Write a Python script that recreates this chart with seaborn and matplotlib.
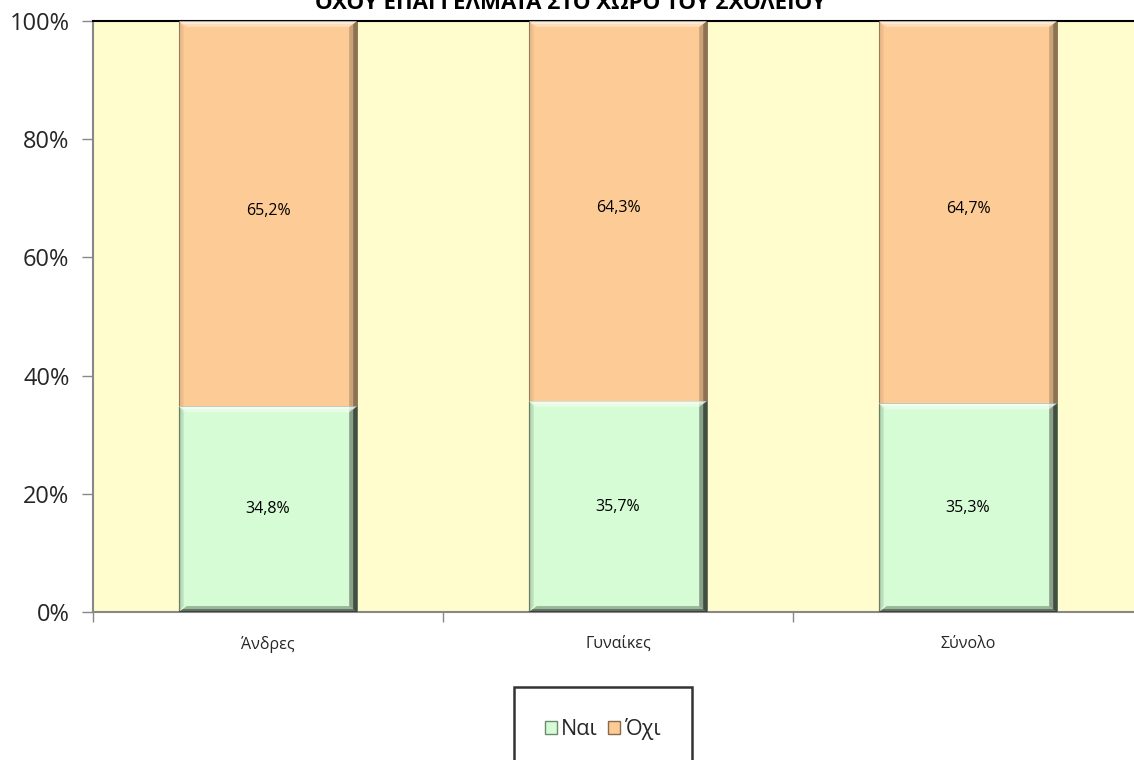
import matplotlib
matplotlib.use("Agg")
import matplotlib.pyplot as plt
import seaborn as sns
import pandas as pd
from matplotlib.patches import Polygon, Patch
from matplotlib.ticker import FixedLocator, PercentFormatter

categories = ["Άνδρες", "Γυναίκες", "Σύνολο"]
nai = [34.8, 35.7, 35.3]
oxi = [65.2, 64.3, 64.7]
series_names = ["Ναι", "Όχι"]
title_text = "ΟΧΟΥ ΕΠΑΓΓΕΛΜΑΤΑ ΣΤΟ ΧΩΡΟ ΤΟΥ ΣΧΟΛΕΙΟΥ"

green = "#D6FCD6"
orange = "#FDCB96"
bg = "#FFFCCD"

sns.set_theme(style="white")
plt.rcParams["font.family"] = ["Open Sans", "DejaVu Sans"]

df = pd.DataFrame({"cat": categories, "nai": nai, "oxi": oxi})
df["total"] = df["nai"] + df["oxi"]

fig = plt.figure(figsize=(11.34, 7.6), dpi=100)
ax = fig.add_axes([93/1134, 1-612/760, 1050/1134, 591/760])
ax.set_facecolor(bg)

sns.barplot(data=df, x="cat", y="total", color=orange, width=0.51, ax=ax,
            saturation=1, edgecolor="#9a7a5a", linewidth=0.6)
sns.barplot(data=df, x="cat", y="nai", color=green, width=0.51, ax=ax,
            saturation=1, edgecolor="#7a9a7a", linewidth=0.6)

# bevel effect (layered for a soft gradient)
for p in list(ax.patches):
    x0, y0 = p.get_x(), p.get_y()
    w, h = p.get_width(), p.get_height()
    for frac, a_top, a_bot, a_right, a_left in [(1.0, 0.35, 0.15, 0.2, 0.06),
                                                 (0.5, 0.45, 0.2, 0.3, 0.05)]:
        dx = w * 0.045 * frac
        dy = 1.0 * frac
        ax.add_patch(Polygon([(x0, y0+h), (x0+w, y0+h), (x0+w-dx, y0+h-dy), (x0+dx, y0+h-dy)],
                             closed=True, facecolor="white", alpha=a_top, lw=0, zorder=3))
        ax.add_patch(Polygon([(x0, y0), (x0+w, y0), (x0+w-dx, y0+dy), (x0+dx, y0+dy)],
                             closed=True, facecolor="black", alpha=a_bot, lw=0, zorder=3))
        ax.add_patch(Polygon([(x0+w, y0), (x0+w, y0+h), (x0+w-dx, y0+h-dy), (x0+w-dx, y0+dy)],
                             closed=True, facecolor="black", alpha=a_right, lw=0, zorder=3))
        ax.add_patch(Polygon([(x0, y0), (x0, y0+h), (x0+dx*0.6, y0+h-dy), (x0+dx*0.6, y0+dy)],
                             closed=True, facecolor="black", alpha=a_left, lw=0, zorder=3))

for i, (n, o) in enumerate(zip(nai, oxi)):
    ax.text(i, n/2, f"{n:.1f}%".replace(".", ","), ha="center", va="center",
            fontsize=11.5, color="black", zorder=5)
    ax.text(i, n + o/2 + 0.5, f"{o:.1f}%".replace(".", ","), ha="center", va="center",
            fontsize=11.5, color="black", zorder=5)

ax.set_xlim(-0.5, 2.5)
ax.set_ylim(0, 100)
ax.set_xlabel("")
ax.set_ylabel("")
ax.yaxis.set_major_locator(FixedLocator([0, 20, 40, 60, 80, 100]))
ax.yaxis.set_major_formatter(PercentFormatter(decimals=0))
ax.tick_params(axis="y", labelsize=17, length=8, width=1, color="#888888", left=True, pad=9)
ax.tick_params(axis="x", labelsize=11.5, length=0, pad=17)
ax.set_xticks(range(3))
ax.set_xticklabels(categories)
ax.set_xticks([-0.5, 0.5, 1.5, 2.5], minor=True)
ax.tick_params(axis="x", which="minor", length=7, width=1, color="#888888", bottom=True)

for s in ["left", "bottom"]:
    ax.spines[s].set_color("#888888")
    ax.spines[s].set_linewidth(1.5)
ax.spines["top"].set_color("black")
ax.spines["top"].set_linewidth(1.5)
ax.spines["right"].set_visible(False)

fig.text(570/1134, 1 - 9/760, title_text, ha="center", va="baseline",
         fontsize=16, fontweight="bold", color="black")

handles = [Patch(facecolor=green, edgecolor="#6a8a6a", label=series_names[0]),
           Patch(facecolor=orange, edgecolor="#8a6a4a", label=series_names[1])]
leg = fig.legend(handles=handles, loc="upper center", ncol=2,
                 bbox_to_anchor=(603/1134, 1-687/760), fontsize=15.5, frameon=True,
                 fancybox=False, edgecolor="black", borderpad=1.45,
                 handlelength=0.55, handleheight=0.55, handletextpad=0.2,
                 columnspacing=0.5, borderaxespad=0)
leg.get_frame().set_linewidth(1.8)

fig.savefig("out.png", dpi=100)
